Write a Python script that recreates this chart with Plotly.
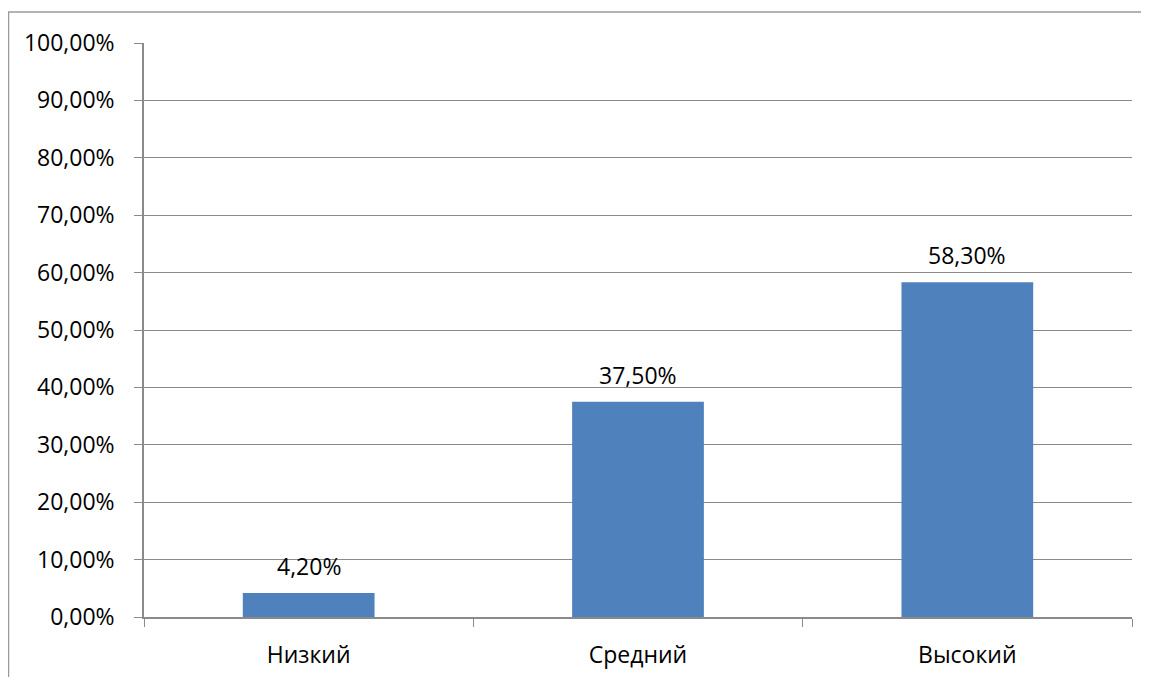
import plotly.graph_objects as go

categories = ["Низкий", "Средний", "Высокий"]
values = [0.042, 0.375, 0.583]
labels = ["4,20%", "37,50%", "58,30%"]

# page body adds an 8px offset, so the figure is sized to compensate
OFF = 8
W, H = 1149 - OFF, 677 - OFF
L, R, T, B = 144 - OFF, 17, 43 - OFF, 60
pw, ph = W - L - R, H - T - B
FONT = "Open Sans"
FS = 23

fig = go.Figure(go.Bar(
    x=categories, y=values,
    marker=dict(color="#4F81BD", line=dict(width=0)),
    width=0.4,
))

for c, v, t in zip(categories, values, labels):
    fig.add_annotation(x=c, y=v, text=t, showarrow=False, yanchor="bottom",
                       yshift=9, font=dict(size=FS, color="#000000", family=FONT))

grid = "#8A8A8A"
fig.update_layout(
    width=W, height=H,
    margin=dict(l=L, r=R, t=T, b=B, pad=0),
    paper_bgcolor="white", plot_bgcolor="white",
    separators=", ",
    showlegend=False,
    font=dict(family=FONT, size=FS, color="#000000"),
    xaxis=dict(
        tickson="boundaries", ticks="outside", ticklen=8, tickcolor=grid,
        showline=True, linecolor=grid, linewidth=1.5, showgrid=False,
        tickfont=dict(size=FS), ticklabelstandoff=17, automargin=False,
    ),
    yaxis=dict(
        range=[0, 1], tickvals=[i / 10 for i in range(11)], tickformat=".2%",
        ticks="outside", ticklen=8, tickcolor=grid,
        showline=True, linecolor=grid, linewidth=1.5,
        showgrid=True, gridcolor=grid, gridwidth=1.2, zeroline=False,
        tickfont=dict(size=FS), ticklabelstandoff=15, automargin=False,
    ),
    shapes=[
        dict(type="line", xref="paper", yref="paper",
             x0=(8 - OFF - L) / pw, x1=(W + 5 - L) / pw,
             y0=1 + (T - (12 - OFF)) / ph, y1=1 + (T - (12 - OFF)) / ph,
             line=dict(color="#9A9A9A", width=1.5)),
        dict(type="line", xref="paper", yref="paper",
             x0=(8 - OFF - L) / pw + 0.0005, x1=(8 - OFF - L) / pw + 0.0005,
             y0=1 + (T - (12 - OFF)) / ph, y1=-(B + 5) / ph,
             line=dict(color="#9A9A9A", width=1.5)),
    ],
)

fig.write_html("out.html")
